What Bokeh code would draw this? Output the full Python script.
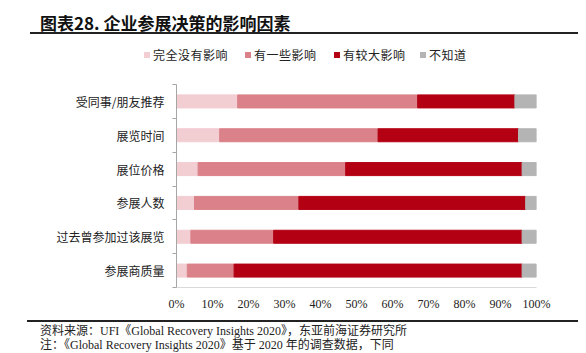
from bokeh.plotting import figure
from bokeh.layouts import column
from bokeh.models import (Range1d, FixedTicker, PrintfTickFormatter, Div, ColumnDataSource)
from bokeh.embed import file_html
from bokeh.resources import INLINE

categories = ["受同事/朋友推荐", "展览时间", "展位价格", "参展人数", "过去曾参加过该展览", "参展商质量"]
series_names = ["完全没有影响", "有一些影响", "有较大影响", "不知道"]
no_impact = [17, 12, 6, 5, 4, 3]
some_impact = [50, 44, 41, 29, 23, 13]
big_impact = [27, 39, 49, 63, 69, 80]
unknown = [6, 5, 4, 3, 4, 4]
x_ticks = list(range(0, 101, 10))

title_text = "图表28. 企业参展决策的影响因素"
source_text = "资料来源：UFI《Global Recovery Insights 2020》，东亚前海证券研究所"
note_text = "注：《Global Recovery Insights 2020》基于 2020 年的调查数据，下同"

colors = ["#f2cdd2", "#db8189", "#b30013", "#b4b4b4"]
CJK = "Noto Sans CJK SC"
W = 586
legend_left = [144, 245, 334, 420]   # layout: left edge of each legend marker (px)

# ---------- header: title, rule, legend ----------
legend_html = "".join(
    f"""<div style="position:absolute;left:{lx}px;top:52px;width:6px;height:6px;background:{c};"></div>
  <div style="position:absolute;left:{lx + 9}px;top:46px;line-height:18px;font-family:'{CJK}';
       font-size:12px;letter-spacing:0.5px;color:#222222;white-space:nowrap;">{nm}</div>"""
    for lx, c, nm in zip(legend_left, colors, series_names))

header = Div(width=W, height=74, margin=(0, 0, 0, 0), text=f"""
<div style="position:relative;width:{W}px;height:74px;margin:0;padding:0;">
  <div style="position:absolute;left:40px;top:12px;line-height:22px;font-family:'{CJK}';
              font-size:17px;font-weight:bold;color:#111111;white-space:nowrap;">{title_text}</div>
  <div style="position:absolute;left:30px;top:32px;width:548px;height:2px;background:#222222;"></div>
  {legend_html}
</div>""")

# ---------- main chart ----------
n = len(categories)
ypos = [n - 0.5 - i for i in range(n)]
src = ColumnDataSource(dict(y=ypos, s0=no_impact, s1=some_impact, s2=big_impact, s3=unknown))

p = figure(width=W, height=244, x_range=Range1d(0, 100), y_range=Range1d(0, n),
           output_backend="svg", toolbar_location=None,
           min_border_left=176, min_border_right=50, min_border_top=10, min_border_bottom=31)
p.outline_line_color = None
p.grid.visible = False

p.hbar_stack(["s0", "s1", "s2", "s3"], y="y", height=0.385, color=colors, source=src)

p.xaxis.ticker = FixedTicker(ticks=x_ticks)
p.xaxis.formatter = PrintfTickFormatter(format="%d%%")
p.xaxis.axis_line_color = "#d9d9d9"
p.xaxis.major_tick_line_color = None
p.xaxis.minor_tick_line_color = None
p.xaxis.major_tick_out = 0
p.xaxis.major_label_standoff = 9
p.xaxis.major_label_text_font = "Liberation Serif"
p.xaxis.major_label_text_font_size = "12px"
p.xaxis.major_label_text_color = "#222222"

p.yaxis.ticker = FixedTicker(ticks=ypos, minor_ticks=list(range(n + 1)))
p.yaxis.major_label_overrides = {y: c for y, c in zip(ypos, categories)}
p.yaxis.major_tick_line_color = None
p.yaxis.major_tick_out = 0
p.yaxis.major_tick_in = 0
p.yaxis.minor_tick_out = 4
p.yaxis.minor_tick_in = 0
p.yaxis.minor_tick_line_color = "#a6a6a6"
p.yaxis.axis_line_color = "#a6a6a6"
p.yaxis.major_label_standoff = 8
p.yaxis.major_label_text_font = CJK
p.yaxis.major_label_text_font_size = "12px"
p.yaxis.major_label_text_color = "#222222"

# ---------- footer ----------
footer = Div(width=W, height=35, margin=(0, 0, 0, 0), text=f"""
<div style="position:relative;width:{W}px;height:35px;margin:0;padding:0;">
  <div style="position:absolute;left:27px;top:2px;width:551px;height:1.5px;background:#222222;"></div>
  <div style="position:absolute;left:40px;top:5px;line-height:16px;font-family:'Liberation Serif','{CJK}';
              font-size:12px;color:#222222;white-space:nowrap;">{source_text}</div>
  <div style="position:absolute;left:40px;top:19px;line-height:16px;font-family:'Liberation Serif','{CJK}';
              font-size:12px;color:#222222;white-space:nowrap;">{note_text}</div>
</div>""")

layout = column(header, p, footer, spacing=0)
open("out.html", "w").write(file_html(layout, INLINE))
